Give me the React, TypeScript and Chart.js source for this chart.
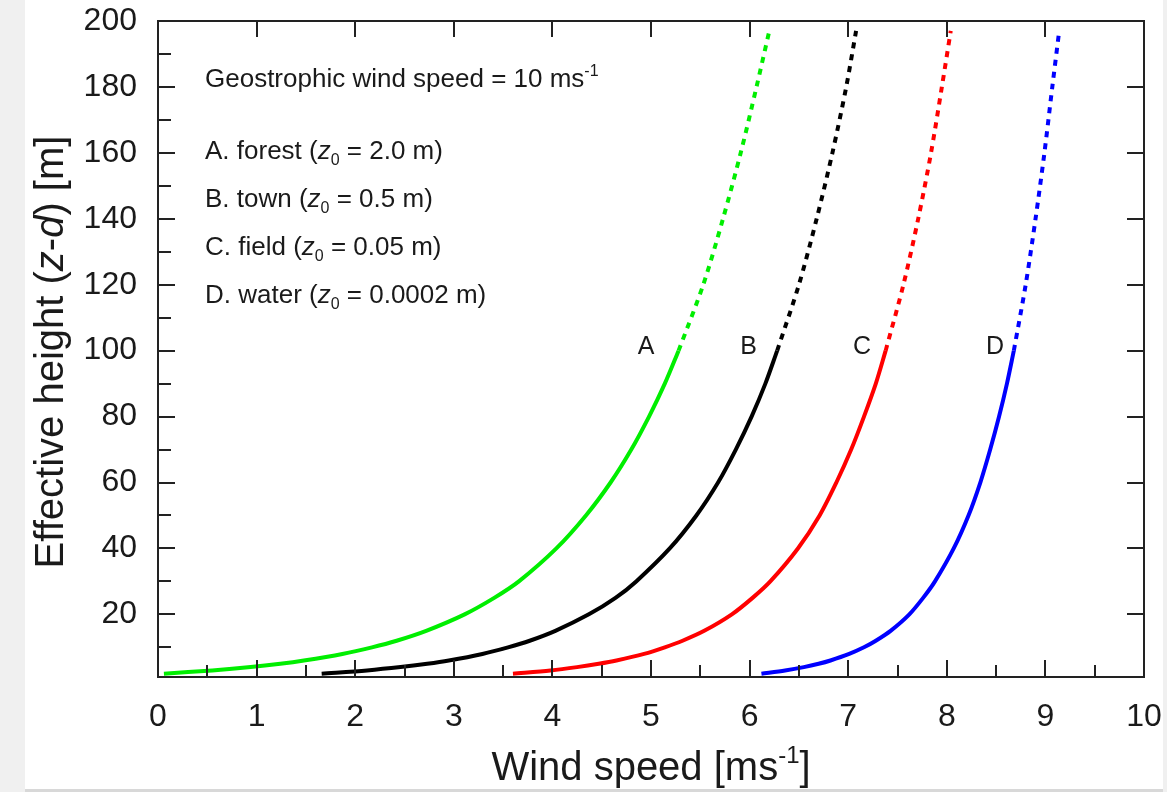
import React, { useEffect, useRef } from "react";
import { Chart, registerables } from "chart.js";

Chart.register(...registerables);

// ---------- data ----------
const heightsSolid = [2, 3, 4, 5, 6, 8, 10, 12, 15, 20, 25, 30, 40, 50, 60, 70, 80, 90, 100];
const heightsDashed = [100, 120, 140, 160, 180, 197];

const forestSolid = [0.06, 0.55, 0.94, 1.24, 1.48, 1.87, 2.17, 2.42, 2.72, 3.11, 3.41, 3.66, 4.04, 4.34, 4.59, 4.8, 4.98, 5.14, 5.28];
const forestDashed = [5.28, 5.53, 5.73, 5.91, 6.07, 6.2];
const townSolid = [1.66, 2.12, 2.46, 2.73, 2.95, 3.29, 3.55, 3.77, 4.03, 4.37, 4.64, 4.85, 5.19, 5.46, 5.68, 5.86, 6.02, 6.16, 6.28];
const townDashed = [6.28, 6.5, 6.68, 6.84, 6.98, 7.08];
const fieldSolid = [3.6, 3.98, 4.25, 4.47, 4.65, 4.93, 5.14, 5.32, 5.54, 5.82, 6.03, 6.21, 6.49, 6.71, 6.88, 7.03, 7.16, 7.28, 7.38];
const fieldDashed = [7.38, 7.56, 7.71, 7.84, 7.95, 8.04];
const waterSolid = [6.12, 6.36, 6.55, 6.7, 6.82, 7.01, 7.16, 7.28, 7.43, 7.62, 7.76, 7.88, 8.07, 8.22, 8.34, 8.44, 8.53, 8.61, 8.68];
const waterDashed = [8.68, 8.8, 8.9, 8.99, 9.07, 9.14];

const curveColors = ["#00ee00", "#000000", "#ff0000", "#0000ff"];
const curveLetters = ["A", "B", "C", "D"];
const curveLetterX = [4.95, 5.99, 7.14, 8.49];
const curveLetterY = 101;

const xTickValues = [0, 1, 2, 3, 4, 5, 6, 7, 8, 9, 10];
const xMinorValues = [0.5, 1.5, 2.5, 3.5, 4.5, 5.5, 6.5, 7.5, 8.5, 9.5];
const yTickValues = [20, 40, 60, 80, 100, 120, 140, 160, 180, 200];
const yMinorValues = [10, 30, 50, 70, 90, 110, 130, 150, 170, 190];

const legendNames = ["A. forest", "B. town", "C. field", "D. water"];
const legendZ0 = ["2.0", "0.5", "0.05", "0.0002"];

const FONT = '"Liberation Sans", Arial, Helvetica, sans-serif';
const TEXT = "#1a1a1a";

type Seg = { t: string; it?: boolean; sub?: boolean; sup?: boolean };

function segFont(s: Seg, size: number) {
  const sz = s.sub || s.sup ? Math.round(size * 0.6) : size;
  return `${s.it ? "italic " : ""}${sz}px ${FONT}`;
}
function measureRich(ctx: CanvasRenderingContext2D, segs: Seg[], size: number) {
  let w = 0;
  for (const s of segs) {
    ctx.font = segFont(s, size);
    w += ctx.measureText(s.t).width;
  }
  return w;
}
function drawRich(ctx: CanvasRenderingContext2D, segs: Seg[], x: number, y: number, size: number) {
  let cx = x;
  ctx.textAlign = "left";
  ctx.textBaseline = "alphabetic";
  for (const s of segs) {
    ctx.font = segFont(s, size);
    const dy = s.sub ? size * 0.24 : s.sup ? -size * 0.42 : 0;
    ctx.fillText(s.t, cx, y + dy);
    cx += ctx.measureText(s.t).width;
  }
}

const toPoints = (xs: number[], ys: number[]) => xs.map((v, i) => ({ x: v, y: ys[i] }));

const framePlugin = {
  id: "frameAndText",
  afterDraw(chart: any) {
    const { ctx, chartArea } = chart;
    const { left, right, top, bottom } = chartArea;
    const xs = chart.scales.x;
    const ys = chart.scales.y;
    ctx.save();
    // frame
    ctx.strokeStyle = "#222";
    ctx.lineWidth = 2;
    ctx.strokeRect(left, top, right - left, bottom - top);
    ctx.beginPath();
    for (const v of xTickValues) {
      if (v === 0 || v === 10) continue;
      const px = Math.round(xs.getPixelForValue(v));
      ctx.moveTo(px, bottom);
      ctx.lineTo(px, bottom - 17);
      ctx.moveTo(px, top);
      ctx.lineTo(px, top + 16);
    }
    for (const v of xMinorValues) {
      const px = Math.round(xs.getPixelForValue(v));
      ctx.moveTo(px, bottom);
      ctx.lineTo(px, bottom - 12);
    }
    for (const v of yTickValues) {
      if (v === 200) continue;
      const py = Math.round(ys.getPixelForValue(v));
      ctx.moveTo(left, py);
      ctx.lineTo(left + 17, py);
      ctx.moveTo(right, py);
      ctx.lineTo(right - 17, py);
    }
    for (const v of yMinorValues) {
      const py = Math.round(ys.getPixelForValue(v));
      ctx.moveTo(left, py);
      ctx.lineTo(left + 13, py);
    }
    ctx.stroke();

    ctx.fillStyle = TEXT;
    // annotation text
    const ax = left + 47;
    drawRich(ctx, [{ t: "Geostrophic wind speed = 10 ms" }, { t: "-1", sup: true }], ax, top + 66, 26);
    legendNames.forEach((name, i) => {
      drawRich(
        ctx,
        [{ t: `${name} (` }, { t: "z", it: true }, { t: "0", sub: true }, { t: ` = ${legendZ0[i]} m)` }],
        ax,
        top + 138 + i * 48,
        26
      );
    });
    // curve letters
    ctx.font = `25px ${FONT}`;
    ctx.textAlign = "center";
    ctx.textBaseline = "middle";
    curveLetters.forEach((l, i) => {
      ctx.fillText(l, xs.getPixelForValue(curveLetterX[i]), ys.getPixelForValue(curveLetterY));
    });

    // x axis title
    const xt: Seg[] = [{ t: "Wind speed [ms" }, { t: "-1", sup: true }, { t: "]" }];
    const xw = measureRich(ctx, xt, 40);
    drawRich(ctx, xt, (left + right) / 2 - xw / 2, 780, 40);

    // y axis title
    const yt: Seg[] = [
      { t: "Effective height (" },
      { t: "z", it: true },
      { t: "-" },
      { t: "d", it: true },
      { t: ") [m]" },
    ];
    const yw = measureRich(ctx, yt, 40);
    ctx.translate(63, (top + bottom) / 2 + 3);
    ctx.rotate(-Math.PI / 2);
    drawRich(ctx, yt, -yw / 2, 0, 40);
    ctx.restore();
  },
};

export default function App() {
  const canvasRef = useRef<HTMLCanvasElement | null>(null);

  useEffect(() => {
    const canvas = canvasRef.current;
    if (!canvas) return;
    const solidSets = [forestSolid, townSolid, fieldSolid, waterSolid];
    const dashedSets = [forestDashed, townDashed, fieldDashed, waterDashed];
    const datasets: any[] = [];
    solidSets.forEach((vals, i) => {
      datasets.push({
        label: curveLetters[i],
        data: toPoints(vals, heightsSolid),
        borderColor: curveColors[i],
        borderWidth: 4,
        pointRadius: 0,
        fill: false,
        tension: 0.3,
      });
      datasets.push({
        label: curveLetters[i] + " (above 100 m)",
        data: toPoints(dashedSets[i], heightsDashed),
        borderColor: curveColors[i],
        borderWidth: 4,
        borderDash: [6, 6],
        pointRadius: 0,
        fill: false,
        tension: 0.3,
      });
    });

    const tickFont = { family: FONT, size: 32 };
    const chart = new Chart(canvas, {
      type: "line",
      data: { datasets },
      plugins: [framePlugin],
      options: {
        animation: false,
        responsive: false,
        devicePixelRatio: 1,
        layout: { padding: { left: 0, top: 21, right: 23, bottom: 0 } },
        plugins: { legend: { display: false }, tooltip: { enabled: false } },
        scales: {
          x: {
            type: "linear",
            min: 0,
            max: 10,
            grid: { display: false, drawTicks: false },
            border: { display: false },
            afterBuildTicks: (s: any) => {
              s.ticks = xTickValues.map((v) => ({ value: v }));
            },
            afterFit: (s: any) => {
              s.height = 115;
              s.paddingLeft = 0;
              s.paddingRight = 0;
            },
            ticks: { font: tickFont, color: TEXT, padding: 21, maxRotation: 0, autoSkip: false },
          },
          y: {
            type: "linear",
            min: 1,
            max: 200,
            grid: { display: false, drawTicks: false },
            border: { display: false },
            afterBuildTicks: (s: any) => {
              s.ticks = yTickValues.map((v) => ({ value: v }));
            },
            afterFit: (s: any) => {
              s.width = 158;
              s.paddingTop = 0;
              s.paddingBottom = 0;
            },
            ticks: { font: tickFont, color: TEXT, padding: 21, autoSkip: false },
          },
        },
      },
    });
    return () => chart.destroy();
  }, []);

  return (
    <div style={{ position: "fixed", left: 0, top: 0, width: 1167, height: 792, background: "#f0f0f0", overflow: "hidden" }}>
      <div style={{ position: "absolute", left: 25, top: 0, width: 1138, height: 789, background: "#ffffff" }} />
      <div style={{ position: "absolute", left: 25, top: 789, width: 1138, height: 3, background: "#d8d8d8" }} />
      <canvas ref={canvasRef} width={1167} height={792} style={{ position: "absolute", left: 0, top: 0, width: 1167, height: 792 }} />
    </div>
  );
}
